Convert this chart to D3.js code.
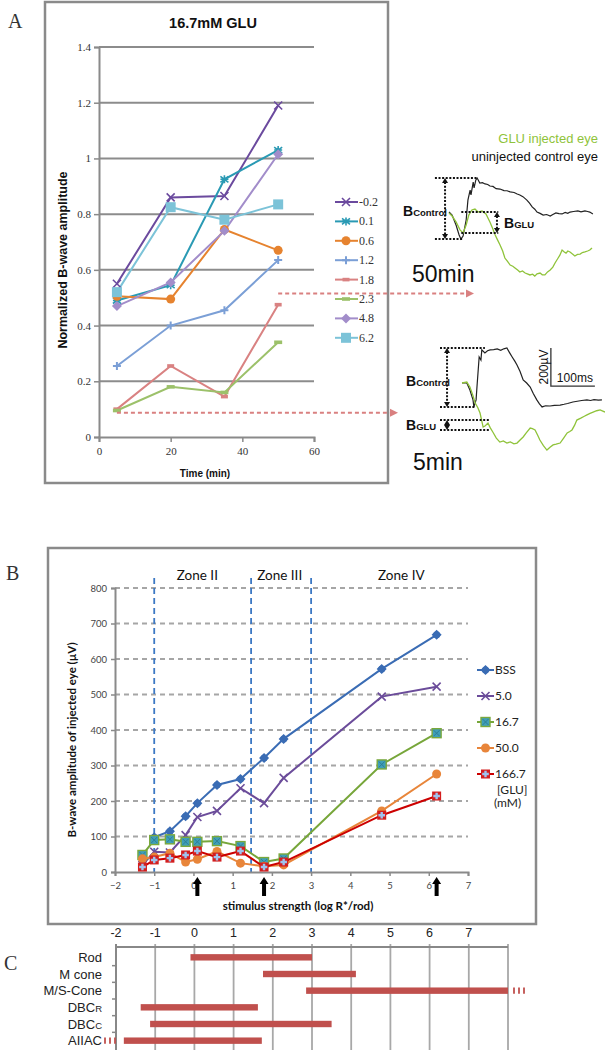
<!DOCTYPE html>
<html><head><meta charset="utf-8">
<script src="https://cdn.jsdelivr.net/npm/d3@7"></script>
<style>body{margin:0;background:#fff} svg{display:block}</style>
</head><body><svg id="c" width="605" height="1050"></svg>
<script>
// ---------- Panel A data ----------
const timesA = [5, 20, 35, 50];
const concA = ["-0.2", "0.1", "0.6", "1.2", "1.8", "2.3", "4.8", "6.2"];
const valsA_m02 = [0.55, 0.86, 0.865, 1.19];
const valsA_01 = [0.49, 0.545, 0.925, 1.03];
const valsA_06 = [0.505, 0.495, 0.745, 0.67];
const valsA_12 = [0.255, 0.40, 0.455, 0.635];
const valsA_18 = [0.10, 0.255, 0.145, 0.475];
const valsA_23 = [0.095, 0.18, 0.16, 0.34];
const valsA_48 = [0.47, 0.555, 0.74, 1.015];
const valsA_62 = [0.52, 0.825, 0.78, 0.835];
const yTicksA = [0, 0.2, 0.4, 0.6, 0.8, 1, 1.2, 1.4];
const xTicksA = [0, 20, 40, 60];

// ERG traces (ms, µV) relative to stimulus onset / baseline
const trace50Ctrl = [[0,5],[7,-11],[16,-63],[23,-116],[27,-137],[32,-121],[39,-37],[43,68],[48,121],[50,95],[55,163],[57,132],[61,174],[64,184],[70,158],[76,160],[82,153],[88,150],[93,142],[100,140],[107,128],[116,126],[125,118],[132,117],[139,111],[148,108],[155,100],[161,95],[168,86],[177,68],[183,52],[189,32],[195,20],[200,5],[207,-2],[214,-11],[222,-8],[230,-16],[236,-8],[243,0],[250,-3],[257,-5],[264,3],[270,-2],[275,5],[283,8],[293,11],[300,6],[309,11],[315,8],[320,5],[327,-5]];
const trace50Glu = [[0,0],[7,-16],[16,-47],[25,-89],[32,-105],[39,-63],[45,-11],[52,16],[59,21],[66,5],[75,11],[80,2],[84,-5],[93,-47],[99,-80],[105,-116],[110,-140],[116,-168],[122,-200],[127,-237],[133,-255],[139,-274],[145,-280],[150,-289],[156,-300],[161,-311],[167,-305],[173,-316],[178,-320],[184,-326],[190,-322],[195,-332],[200,-320],[207,-316],[212,-325],[218,-326],[224,-310],[230,-300],[236,-285],[241,-263],[248,-237],[252,-222],[257,-195],[262,-205],[266,-211],[270,-200],[275,-205],[280,-215],[286,-226],[292,-218],[298,-216],[303,-208],[309,-205],[315,-200],[320,-195],[325,-184]];
const trace5Ctrl = [[0,0],[11,0],[18,-37],[25,-89],[27,-126],[32,-89],[34,-21],[39,137],[43,121],[45,174],[52,158],[58,170],[64,174],[72,176],[80,179],[88,172],[95,180],[102,184],[108,160],[114,137],[120,115],[125,95],[132,60],[139,16],[147,0],[155,-21],[162,-55],[170,-89],[176,-110],[182,-126],[190,-120],[200,-121],[210,-118],[223,-116],[232,-112],[240,-108],[252,-100],[262,-96],[272,-92],[284,-89],[292,-92],[300,-88],[310,-90],[318,-89]];
const trace5Glu = [[0,0],[11,5],[18,-21],[24,-60],[30,-105],[36,-130],[41,-158],[48,-232],[53,-225],[59,-211],[64,-235],[70,-258],[78,-290],[86,-311],[94,-305],[102,-316],[110,-310],[118,-320],[125,-316],[132,-300],[139,-284],[146,-262],[155,-237],[160,-240],[166,-247],[172,-275],[177,-300],[185,-330],[193,-353],[200,-338],[207,-326],[214,-322],[223,-316],[231,-290],[239,-263],[245,-255],[250,-247],[256,-222],[261,-195],[270,-185],[278,-175],[284,-168],[291,-160],[298,-153],[306,-146],[314,-142],[320,-148],[325,-153]];
const bControl50 = [184, -137];
const bGlu50 = [5, -105];
const bControl5 = [184, -126];
const bGlu5 = [-195, -247];

// ---------- Panel B data ----------
const stimB = [-1.3, -1.0, -0.6, -0.2, 0.1, 0.6, 1.2, 1.8, 2.3, 4.8, 6.2];
const namesB = ["BSS", "5.0", "16.7", "50.0", "166.7"];
const valsB_bss = [null, 98, 115, 157, 194, 245, 262, 321, 375, 572, 668];
const valsB_5 = [20, 57, 55, 104, 155, 172, 236, 194, 265, 494, 522];
const valsB_167 = [48, 90, 92, 85, 85, 87, 73, 28, 38, 303, 391];
const valsB_50 = [37, 42, 53, 28, 36, 58, 25, 16, 20, 172, 276];
const valsB_1667 = [14, 34, 39, 48, 59, 42, 59, 14, 28, 160, 214];
const yTicksB = [0, 100, 200, 300, 400, 500, 600, 700, 800];
const xTicksB = [-2, -1, 0, 1, 2, 3, 4, 5, 6, 7];
const zoneLines = [-1, 1.47, 3];
const zoneNames = ["Zone II", "Zone III", "Zone IV"];
const zoneCenters = [0.1, 2.2, 5.3];
const arrowStims = [0.1, 1.8, 6.2];

// ---------- Panel C data ----------
const cellsC = ["Rod", "M cone", "M/S-Cone", "DBC|R", "DBC|C", "AIIAC"];
const startC = [-0.1, 1.75, 2.85, -1.37, -1.13, -1.8];
const endC = [3.0, 4.12, 8.0, 1.62, 3.5, 1.72];
const xTicksC = [-2, -1, 0, 1, 2, 3, 4, 5, 6, 7];
const gridC = [-2, -1, 0, 1, 2, 3, 4, 5, 6, 7, 8];

const svg = d3.select('#c');
const SANS = "'Liberation Sans', Arial, sans-serif";
const SERIF = "'Liberation Serif', serif";
const CAL = "Lato, 'Open Sans', sans-serif";

function marker(sel, type, x, y, col, s) {
  const g = sel.append('g').attr('transform', `translate(${x},${y})`);
  s = s || 4;
  if (type === 'x') {
    g.append('path').attr('d', `M${-s},${-s}L${s},${s}M${-s},${s}L${s},${-s}`).attr('stroke', col).attr('stroke-width', 1.6).attr('fill', 'none');
  } else if (type === 'star') {
    g.append('path').attr('d', `M${-s},${-s+1}L${s},${s-1}M${-s},${s-1}L${s},${-s+1}M0,${-s}V${s}M${-s},0H${s}`).attr('stroke', col).attr('stroke-width', 1.6).attr('fill', 'none');
  } else if (type === 'circle') {
    g.append('circle').attr('r', s).attr('fill', col);
  } else if (type === 'plus') {
    g.append('path').attr('d', `M${-s},0H${s}M0,${-s}V${s}`).attr('stroke', col).attr('stroke-width', 2).attr('fill', 'none');
  } else if (type === 'dash') {
    g.append('rect').attr('x', -s).attr('y', -1.8).attr('width', 2 * s).attr('height', 3.6).attr('fill', col);
  } else if (type === 'diamond') {
    g.append('path').attr('d', `M0,${-s}L${s},0L0,${s}L${-s},0Z`).attr('fill', col);
  } else if (type === 'square') {
    g.append('rect').attr('x', -s).attr('y', -s).attr('width', 2 * s).attr('height', 2 * s).attr('fill', col);
  } else if (type === 'bss') {
    g.append('circle').attr('r', s - 0.5).attr('fill', col);
    g.append('path').attr('d', `M0,${-s-1}L${s+1},0L0,${s+1}L${-s-1},0Z`).attr('fill', col);
  } else if (type === 'sq167') {
    g.append('rect').attr('x', -s).attr('y', -s).attr('width', 2 * s).attr('height', 2 * s).attr('fill', '#3f9fb9').attr('stroke', '#7aa83c').attr('stroke-width', 1.4);
    g.append('path').attr('d', `M${-s+1.5},${-s+1.5}L${s-1.5},${s-1.5}M${-s+1.5},${s-1.5}L${s-1.5},${-s+1.5}`).attr('stroke', '#2f7f96').attr('stroke-width', 1);
  } else if (type === 'sqred') {
    g.append('rect').attr('x', -s).attr('y', -s).attr('width', 2 * s).attr('height', 2 * s).attr('fill', '#d41e1e');
    g.append('path').attr('d', `M${-s+1.2},0H${s-1.2}M0,${-s+1.2}V${s-1.2}`).attr('stroke', '#9fc3ee').attr('stroke-width', 2.4);
  }
}

// ================= PANEL A =================
svg.append('text').attr('x', 8).attr('y', 28).text('A').attr('font-family', SERIF).attr('font-size', 20).attr('fill', '#333');
svg.append('rect').attr('x', 45).attr('y', 2).attr('width', 343).attr('height', 481).attr('fill', 'none').attr('stroke', '#8a8a8a').attr('stroke-width', 2.5);

const xA = d3.scaleLinear().domain([0, 60]).range([99, 314]);
const yA = d3.scaleLinear().domain([0, 1.4]).range([437, 47]);
const gA = svg.append('g');

gA.selectAll('line.grid').data(yTicksA.filter(d => d > 0)).join('line')
  .attr('x1', xA(0)).attr('x2', xA(60)).attr('y1', d => yA(d)).attr('y2', d => yA(d))
  .attr('stroke', '#8c8c8c').attr('stroke-width', 2);
// axes
const axAy = gA.append('g').attr('transform', `translate(${xA(0)},0)`)
  .call(d3.axisLeft(yA).tickValues(yTicksA).tickSize(5).tickFormat(d => d3.format('')(+d.toFixed(1))));
const axAx = gA.append('g').attr('transform', `translate(0,${yA(0)})`)
  .call(d3.axisBottom(xA).tickValues(xTicksA).tickSize(5));
[axAy, axAx].forEach(a => {
  a.select('.domain').attr('stroke', '#8a8a8a').attr('stroke-width', 2);
  a.selectAll('.tick line').attr('stroke', '#8a8a8a').attr('stroke-width', 1.5);
  a.selectAll('.tick text').attr('font-family', SERIF).attr('font-size', 11).attr('fill', '#333');
});
axAx.selectAll('.tick text').attr('dy', '0.9em');

svg.append('text').attr('x', 213).attr('y', 28).attr('text-anchor', 'middle').text('16.7mM GLU')
  .attr('font-family', SANS).attr('font-weight', 'bold').attr('font-size', 14.5).attr('fill', '#111');
svg.append('text').attr('transform', 'translate(67,260) rotate(-90)').attr('text-anchor', 'middle')
  .text('Normalized B-wave amplitude').attr('font-family', SANS).attr('font-weight', 'bold').attr('font-size', 12.5).attr('fill', '#111');
svg.append('text').attr('x', 205).attr('y', 477).attr('text-anchor', 'middle').text('Time (min)')
  .attr('font-family', SANS).attr('font-weight', 'bold').attr('font-size', 10).attr('fill', '#111');

const seriesA = [
  { name: concA[0], vals: valsA_m02, col: '#6b4a9e', m: 'x', s: 4 },
  { name: concA[1], vals: valsA_01, col: '#2a9ab4', m: 'star', s: 4 },
  { name: concA[2], vals: valsA_06, col: '#e6832f', m: 'circle', s: 4.5 },
  { name: concA[3], vals: valsA_12, col: '#7b9fd6', m: 'plus', s: 4 },
  { name: concA[4], vals: valsA_18, col: '#d98282', m: 'dash', s: 3.5 },
  { name: concA[5], vals: valsA_23, col: '#9cc16a', m: 'dash', s: 4 },
  { name: concA[6], vals: valsA_48, col: '#a28dca', m: 'diamond', s: 5 },
  { name: concA[7], vals: valsA_62, col: '#7cc3d8', m: 'square', s: 5 }
];
const lineA = d3.line().x((d, i) => xA(timesA[i])).y(d => yA(d));
seriesA.forEach(s => {
  gA.append('path').attr('d', lineA(s.vals)).attr('fill', 'none').attr('stroke', s.col).attr('stroke-width', 2);
});
seriesA.forEach(s => {
  s.vals.forEach((v, i) => marker(gA, s.m, xA(timesA[i]), yA(v), s.col, s.s));
});
// legend A
seriesA.forEach((s, i) => {
  const y = 202 + i * 19.4;
  gA.append('line').attr('x1', 335).attr('x2', 358).attr('y1', y).attr('y2', y).attr('stroke', s.col).attr('stroke-width', 2);
  marker(gA, s.m, 346, y, s.col, s.s);
  gA.append('text').attr('x', 359).attr('y', y + 4).text(s.name).attr('font-family', SERIF).attr('font-size', 12).attr('fill', '#333');
});

// dashed pointer arrows
const pink = '#d98080';
function dashArrow(x1, y1, x2) {
  svg.append('line').attr('x1', x1).attr('x2', x2 - 6).attr('y1', y1).attr('y2', y1)
    .attr('stroke', pink).attr('stroke-width', 2).attr('stroke-dasharray', '4,3');
  svg.append('path').attr('d', `M${x2},${y1}L${x2 - 8},${y1 - 4}L${x2 - 8},${y1 + 4}Z`).attr('fill', pink);
}
dashArrow(xA(50), yA(0.515), 474);
dashArrow(xA(5), yA(0.087), 398);

// ---------- traces ----------
const green = '#8fc33a';
svg.append('text').attr('x', 598).attr('y', 143).attr('text-anchor', 'end').text('GLU injected eye')
  .attr('font-family', SANS).attr('font-size', 13).attr('fill', green);
svg.append('text').attr('x', 598).attr('y', 161).attr('text-anchor', 'end').text('uninjected control eye')
  .attr('font-family', SANS).attr('font-size', 13).attr('fill', '#111');

function drawTraces(ox, oy, ctrl, glu, bC, bG, bGx, bCx, lblY) {
  const xT = d3.scaleLinear().domain([0, 100]).range([ox, ox + 44]);
  const yT = d3.scaleLinear().domain([0, 200]).range([oy, oy - 38]);
  const ln = d3.line().x(d => xT(d[0])).y(d => yT(d[1]));
  svg.append('path').attr('d', ln(ctrl)).attr('fill', 'none').attr('stroke', '#222').attr('stroke-width', 1.2);
  svg.append('path').attr('d', ln(glu)).attr('fill', 'none').attr('stroke', green).attr('stroke-width', 1.3);
  return { xT, yT };
}
function dotted(x1, y1, x2, y2) {
  svg.append('line').attr('x1', x1).attr('x2', x2).attr('y1', y1).attr('y2', y2)
    .attr('stroke', '#111').attr('stroke-width', 2).attr('stroke-dasharray', '2,1.6');
}
function dArrow(x, y1, y2) {
  dotted(x, y1 + 4, x, y2 - 4);
  svg.append('path').attr('d', `M${x},${y1}L${x - 3},${y1 + 5}L${x + 3},${y1 + 5}Z`).attr('fill', '#111');
  svg.append('path').attr('d', `M${x},${y2}L${x - 3},${y2 - 5}L${x + 3},${y2 - 5}Z`).attr('fill', '#111');
}
function bLabel(x, y, sub) {
  const t = svg.append('text').attr('x', x).attr('y', y).attr('font-family', SANS).attr('font-weight', 'bold').attr('fill', '#111');
  t.append('tspan').text('B').attr('font-size', 14);
  t.append('tspan').text(sub).attr('font-size', 9.5);
}

// 50 min
{
  const { xT, yT } = drawTraces(449, 213, trace50Ctrl, trace50Glu);
  dotted(xT(-32), yT(bControl50[0]), xT(64), yT(bControl50[0]));
  dotted(xT(-32), yT(bControl50[1]), xT(30), yT(bControl50[1]));
  dArrow(xT(-9), yT(bControl50[0]), yT(bControl50[1]));
  dotted(xT(28), yT(bGlu50[0]), xT(112), yT(bGlu50[0]));
  dotted(xT(28), yT(bGlu50[1]), xT(112), yT(bGlu50[1]));
  dArrow(xT(109), yT(bGlu50[0]), yT(bGlu50[1]));
  bLabel(403, 216, 'Control');
  bLabel(504, 228, 'GLU');
  svg.append('text').attr('x', 412).attr('y', 282).text('50min').attr('font-family', SANS).attr('font-size', 23).attr('fill', '#111');
}
// 5 min
{
  const { xT, yT } = drawTraces(462, 383, trace5Ctrl, trace5Glu);
  dotted(xT(-50), yT(bControl5[0]), xT(52), yT(bControl5[0]));
  dotted(xT(-50), yT(bControl5[1]), xT(30), yT(bControl5[1]));
  dArrow(xT(-34), yT(bControl5[0]), yT(bControl5[1]));
  dotted(xT(-50), yT(bGlu5[0]), xT(64), yT(bGlu5[0]));
  dotted(xT(-50), yT(bGlu5[1]), xT(64), yT(bGlu5[1]));
  dArrow(xT(-34), yT(bGlu5[0]), yT(bGlu5[1]));
  bLabel(406, 386, 'Control');
  bLabel(406, 430, 'GLU');
  svg.append('text').attr('x', 413).attr('y', 470).text('5min').attr('font-family', SANS).attr('font-size', 23).attr('fill', '#111');
  // scale bar
  const sx = xT(202), sy = yT(-16);
  svg.append('path').attr('d', `M${sx},${yT(184)}V${sy}H${xT(302)}`).attr('fill', 'none').attr('stroke', '#333').attr('stroke-width', 1.3);
  svg.append('text').attr('transform', `translate(${sx - 3},${(yT(184) + sy) / 2}) rotate(-90)`).attr('text-anchor', 'middle')
    .text('200µV').attr('font-family', SANS).attr('font-size', 12).attr('fill', '#111');
  svg.append('text').attr('x', (sx + xT(302)) / 2 + 2).attr('y', sy - 4).attr('text-anchor', 'middle')
    .text('100ms').attr('font-family', SANS).attr('font-size', 12).attr('fill', '#111');
}

// ================= PANEL B =================
svg.append('text').attr('x', 6).attr('y', 580).text('B').attr('font-family', SERIF).attr('font-size', 20).attr('fill', '#333');
svg.append('rect').attr('x', 48).attr('y', 548).attr('width', 488).attr('height', 376).attr('fill', 'none').attr('stroke', '#8a8a8a').attr('stroke-width', 2.5);
const xB = d3.scaleLinear().domain([-2, 7]).range([115, 468]);
const yB = d3.scaleLinear().domain([0, 800]).range([872, 588]);
const gB = svg.append('g');
gB.selectAll('line.gridB').data(yTicksB.filter(d => d > 0)).join('line')
  .attr('x1', xB(-2)).attr('x2', xB(7)).attr('y1', d => yB(d)).attr('y2', d => yB(d))
  .attr('stroke', '#a6a6a6').attr('stroke-width', 2).attr('stroke-dasharray', '5,4');
gB.selectAll('line.zone').data(zoneLines).join('line')
  .attr('x1', d => xB(d)).attr('x2', d => xB(d)).attr('y1', 578).attr('y2', yB(0))
  .attr('stroke', '#3c78c4').attr('stroke-width', 1.8).attr('stroke-dasharray', '6,4');
gB.selectAll('text.zone').data(zoneNames).join('text')
  .attr('x', (d, i) => xB(zoneCenters[i])).attr('y', 580).attr('text-anchor', 'middle').text(d => d)
  .attr('font-family', CAL).attr('font-size', 13.5).attr('fill', '#111');
const axBy = gB.append('g').attr('transform', `translate(${xB(-2)},0)`).call(d3.axisLeft(yB).tickValues(yTicksB).tickSize(4));
const axBx = gB.append('g').attr('transform', `translate(0,${yB(0)})`).call(d3.axisBottom(xB).tickValues(xTicksB).tickSize(4));
[axBy, axBx].forEach(a => {
  a.select('.domain').attr('stroke', '#8a8a8a').attr('stroke-width', 2);
  a.selectAll('.tick line').attr('stroke', '#8a8a8a').attr('stroke-width', 1.5);
  a.selectAll('.tick text').attr('font-family', CAL).attr('font-size', 9.5).attr('fill', '#444');
});
axBy.selectAll('.tick text').attr('x', -8);
axBx.selectAll('.tick text').attr('dy', '1.1em');

svg.append('text').attr('transform', 'translate(76,740) rotate(-90)').attr('text-anchor', 'middle')
  .text('B-wave amplitude of injected eye (µV)').attr('font-family', CAL).attr('font-weight', 'bold').attr('font-size', 11.5).attr('fill', '#111');
svg.append('text').attr('x', 298).attr('y', 910).attr('text-anchor', 'middle').text('stimulus strength (log R*/rod)')
  .attr('font-family', CAL).attr('font-weight', 'bold').attr('font-size', 11.5).attr('fill', '#111');

// black arrows
arrowStims.forEach(s => {
  const x = xB(s);
  gB.append('path').attr('d', `M${x},877L${x + 4.5},884L${x + 2},884L${x + 2},896L${x - 2},896L${x - 2},884L${x - 4.5},884Z`).attr('fill', '#000');
});

const seriesB = [
  { name: namesB[0], vals: valsB_bss, col: '#3a6cb4', m: 'bss', s: 4 },
  { name: namesB[1], vals: valsB_5, col: '#6b4c9a', m: 'x', s: 4 },
  { name: namesB[2], vals: valsB_167, col: '#77a63a', m: 'sq167', s: 4.5 },
  { name: namesB[3], vals: valsB_50, col: '#e8853a', m: 'circle', s: 4.5 },
  { name: namesB[4], vals: valsB_1667, col: '#cc0000', m: 'sqred', s: 4.5 }
];
const lineB = d3.line().defined(d => d != null).x((d, i) => xB(stimB[i])).y(d => yB(d));
seriesB.forEach(s => {
  gB.append('path').attr('d', lineB(s.vals)).attr('fill', 'none').attr('stroke', s.col).attr('stroke-width', 2);
  s.vals.forEach((v, i) => { if (v != null) marker(gB, s.m, xB(stimB[i]), yB(v), s.col, s.s); });
});
const legBy = [670, 696, 722, 748, 774];
seriesB.forEach((s, i) => {
  const y = legBy[i];
  gB.append('line').attr('x1', 477).attr('x2', 494).attr('y1', y).attr('y2', y).attr('stroke', s.col).attr('stroke-width', 2);
  marker(gB, s.m, 485.5, y, s.col, s.s);
  gB.append('text').attr('x', 495).attr('y', y + 4).text(s.name).attr('font-family', CAL).attr('font-size', 12).attr('fill', '#222');
});
gB.append('text').attr('x', 497).attr('y', 794).text('[GLU]').attr('font-family', CAL).attr('font-size', 12).attr('fill', '#222');
gB.append('text').attr('x', 494).attr('y', 807).text('(mM)').attr('font-family', CAL).attr('font-size', 12).attr('fill', '#222');

// ================= PANEL C =================
svg.append('text').attr('x', 4).attr('y', 970).text('C').attr('font-family', SERIF).attr('font-size', 20).attr('fill', '#333');
const xC = d3.scaleLinear().domain([-2, 8]).range([116, 508]);
const yC = d3.scaleBand().domain(cellsC).range([949, 1049]);
const gC = svg.append('g');
gC.selectAll('line.gc').data(gridC).join('line')
  .attr('x1', d => xC(d)).attr('x2', d => xC(d)).attr('y1', 944).attr('y2', 1050)
  .attr('stroke', '#a8a8a8').attr('stroke-width', 1.8);
gC.append('line').attr('x1', xC(-2)).attr('x2', xC(8)).attr('y1', 947).attr('y2', 947).attr('stroke', '#888').attr('stroke-width', 2);
gC.append('line').attr('x1', xC(-2)).attr('x2', xC(-2)).attr('y1', 944).attr('y2', 1050).attr('stroke', '#888').attr('stroke-width', 2);
gC.selectAll('line.ct').data(cellsC.slice(1)).join('line')
  .attr('x1', xC(-2) - 4).attr('x2', xC(-2)).attr('y1', d => yC(d)).attr('y2', d => yC(d))
  .attr('stroke', '#888').attr('stroke-width', 1.5);
gC.selectAll('text.tc').data(xTicksC).join('text')
  .attr('x', d => xC(d)).attr('y', 937).attr('text-anchor', 'middle').text(d => d)
  .attr('font-family', SANS).attr('font-size', 12.5).attr('fill', '#222');
gC.selectAll('rect.bar').data(cellsC).join('rect')
  .attr('x', (d, i) => xC(startC[i])).attr('width', (d, i) => xC(endC[i]) - xC(startC[i]))
  .attr('y', d => yC(d) + yC.bandwidth() / 2 - 3.2).attr('height', 6.4)
  .attr('fill', '#c0504d');
cellsC.forEach(c => {
  const parts = c.split('|');
  const t = gC.append('text').attr('x', 102).attr('y', yC(c) + yC.bandwidth() / 2 + 4.5).attr('text-anchor', 'end')
    .attr('font-family', SANS).attr('font-size', 13).attr('fill', '#222');
  t.append('tspan').text(parts[0]);
  if (parts[1]) t.append('tspan').text(parts[1]).attr('font-size', 9.5);
});
// continuation ticks
function contTicks(x0, y) {
  [0, 5, 10].forEach(dx => gC.append('line').attr('x1', x0 + dx).attr('x2', x0 + dx).attr('y1', y - 3.2).attr('y2', y + 3.2)
    .attr('stroke', '#c0504d').attr('stroke-width', 1.8));
}
contTicks(xC(8) + 6, yC('M/S-Cone') + yC.bandwidth() / 2);
contTicks(xC(-2) - 11, yC('AIIAC') + yC.bandwidth() / 2);
</script></body></html>
